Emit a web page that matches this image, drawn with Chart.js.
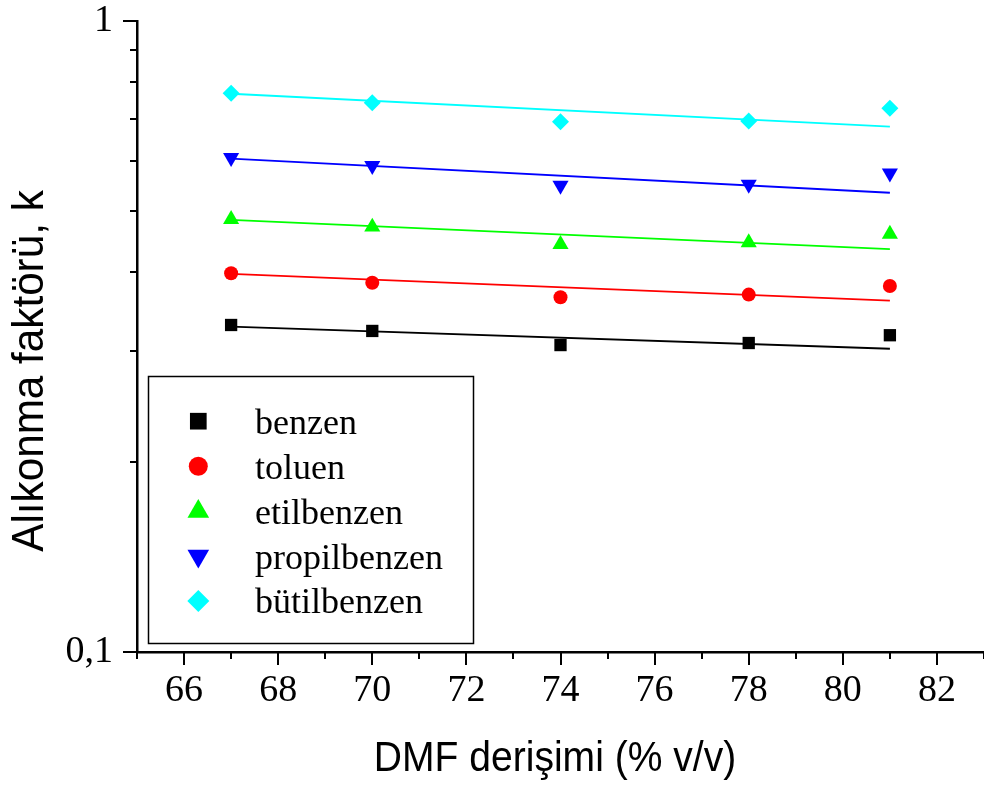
<!DOCTYPE html>
<html>
<head>
<meta charset="utf-8">
<script src="https://cdn.jsdelivr.net/npm/chart.js@4.4.0/dist/chart.umd.min.js"></script>
<style>
  html, body { margin: 0; padding: 0; background: #fff; }
</style>
</head>
<body>
<canvas id="chart" width="984" height="785"></canvas>
<script>
// DMF concentration (% v/v) and retention factors
const concentrations = [67, 70, 74, 78, 81];
const fitRange = [67, 81];
const seriesNames = ['benzen', 'toluen', 'etilbenzen', 'propilbenzen', 'bütilbenzen'];

const benzen = [0.3298, 0.3227, 0.3065, 0.3088, 0.3177];
const toluen = [0.3983, 0.3848, 0.3649, 0.3685, 0.3802];
const etilbenzen = [0.4850, 0.4716, 0.4426, 0.4454, 0.4597];
const propilbenzen = [0.6073, 0.5898, 0.5487, 0.5507, 0.5737];
const butilbenzen = [0.7681, 0.7422, 0.6924, 0.6940, 0.7273];

// fitted lines (values at 67 and 81)
const benzenFit = [0.3278, 0.3024];
const toluenFit = [0.3973, 0.3604];
const etilbenzenFit = [0.4838, 0.4351];
const propilbenzenFit = [0.6051, 0.5343];
const butilbenzenFit = [0.7669, 0.6800];

const xMajorTicks = [66, 68, 70, 72, 74, 76, 78, 80, 82];
const xMinorTicks = [65, 67, 69, 71, 73, 75, 77, 79, 81, 83];
const yMajorTicks = [0.1, 1];
const yMinorTicks = [0.2, 0.3, 0.4, 0.5, 0.6, 0.7, 0.8, 0.9];
const yTickLabels = ['0,1', '1'];

const xTitle = 'DMF derişimi (% v/v)';
const yTitle = 'Alıkonma faktörü, k';

const allValues = [benzen, toluen, etilbenzen, propilbenzen, butilbenzen];
const allFits = [benzenFit, toluenFit, etilbenzenFit, propilbenzenFit, butilbenzenFit];
const colors = ['#000000', '#ff0000', '#00ff00', '#0000ff', '#00ffff'];
const styles = ['rect', 'circle', 'triangle', 'triangle', 'rectRot'];
const rotations = [0, 0, 0, 180, 0];
const radii = [8.7, 7, 9.3, 9.3, 8.5];
const legendRadii = [11.8, 9.5, 12.5, 12.5, 11];

const datasets = [];
seriesNames.forEach((name, i) => {
  datasets.push({
    label: name,
    data: concentrations.map((x, j) => ({ x: x, y: allValues[i][j] })),
    showLine: false,
    pointStyle: styles[i],
    pointRotation: rotations[i],
    pointRadius: radii[i],
    pointHoverRadius: radii[i],
    pointBorderWidth: 0,
    backgroundColor: colors[i],
    borderColor: colors[i]
  });
  datasets.push({
    label: name + ' fit',
    data: fitRange.map((x, j) => ({ x: x, y: allFits[i][j] })),
    showLine: true,
    pointRadius: 0,
    borderWidth: 1.8,
    borderColor: colors[i],
    backgroundColor: colors[i]
  });
});

const extras = {
  id: 'extras',
  afterDraw(chart) {
    const ctx = chart.ctx;
    const xs = chart.scales.x, ys = chart.scales.y;
    const bottom = chart.chartArea.bottom, left = chart.chartArea.left;
    ctx.save();
    ctx.strokeStyle = '#000';
    ctx.lineWidth = 2;
    // tick marks
    xMajorTicks.forEach(v => {
      const p = Math.round(xs.getPixelForValue(v));
      ctx.beginPath(); ctx.moveTo(p, bottom); ctx.lineTo(p, bottom + 13); ctx.stroke();
    });
    xMinorTicks.forEach(v => {
      const p = Math.round(xs.getPixelForValue(v));
      ctx.beginPath(); ctx.moveTo(p, bottom); ctx.lineTo(p, bottom + 7); ctx.stroke();
    });
    yMajorTicks.forEach(v => {
      const p = Math.round(ys.getPixelForValue(v));
      ctx.beginPath(); ctx.moveTo(left, p); ctx.lineTo(left - 14, p); ctx.stroke();
    });
    yMinorTicks.forEach(v => {
      const p = Math.round(ys.getPixelForValue(v));
      ctx.beginPath(); ctx.moveTo(left, p); ctx.lineTo(left - 7, p); ctx.stroke();
    });

    // axis titles
    ctx.fillStyle = '#000';
    ctx.textAlign = 'center';
    ctx.textBaseline = 'alphabetic';
    ctx.font = '42px "Liberation Sans", Arial, sans-serif';
    ctx.save();
    ctx.translate(555, 771);
    ctx.scale(0.93, 1);
    ctx.fillText(xTitle, 0, 0);
    ctx.restore();
    ctx.save();
    ctx.font = '44px "Liberation Sans", Arial, sans-serif';
    ctx.translate(43, 371);
    ctx.rotate(-Math.PI / 2);
    ctx.scale(0.96, 1);
    ctx.fillText(yTitle, 0, 0);
    ctx.restore();

    // legend box
    ctx.fillStyle = '#fff';
    ctx.fillRect(148.5, 376.5, 325, 267);
    ctx.lineWidth = 1.5;
    ctx.strokeRect(148.5, 376.5, 325, 267);
    const markerY = [421.2, 466.2, 511.6, 556.1, 601];
    const textY = [434, 479, 524, 569, 613];
    seriesNames.forEach((name, i) => {
      ctx.fillStyle = colors[i];
      ctx.strokeStyle = colors[i];
      Chart.helpers.drawPoint(ctx, {
        pointStyle: styles[i], rotation: rotations[i], radius: legendRadii[i], borderWidth: 0
      }, 198.3, markerY[i]);
      ctx.fillStyle = '#000';
      ctx.textAlign = 'left';
      ctx.font = '36px "Liberation Serif", "Times New Roman", serif';
      ctx.fillText(name, 255, textY[i]);
    });
    ctx.restore();
  }
};

new Chart(document.getElementById('chart'), {
  type: 'scatter',
  data: { datasets: datasets },
  options: {
    responsive: false,
    animation: false,
    devicePixelRatio: 1,
    layout: { autoPadding: false, padding: { top: 21, right: 0, left: 0, bottom: 0 } },
    plugins: { legend: { display: false }, tooltip: { enabled: false } },
    scales: {
      x: {
        type: 'linear',
        min: 65,
        max: 83,
        // grid hidden; tickLength only offsets the labels (tick marks drawn in plugin)
        grid: { display: false, drawTicks: true, tickLength: 16 },
        border: { display: true, color: '#000', width: 2.5 },
        afterBuildTicks: s => {
          s.ticks = xMinorTicks.concat(xMajorTicks).sort((a, b) => a - b).map(v => ({ value: v }));
        },
        afterFit: s => { s.height = 133; },
        ticks: {
          autoSkip: false,
          maxRotation: 0,
          padding: 0,
          color: '#000',
          font: { family: '"Liberation Serif", "Times New Roman", serif', size: 38, lineHeight: 1.2 },
          callback: v => xMajorTicks.includes(v) ? String(v) : ''
        }
      },
      y: {
        type: 'logarithmic',
        min: 0.1,
        max: 1,
        grid: { display: false, drawTicks: true, tickLength: 24 },
        border: { display: true, color: '#000', width: 2.5 },
        afterBuildTicks: s => {
          s.ticks = yMajorTicks.concat(yMinorTicks).sort((a, b) => a - b).map(v => ({ value: v }));
        },
        afterFit: s => { s.width = 137; },
        ticks: {
          autoSkip: false,
          padding: 0,
          color: '#000',
          font: { family: '"Liberation Serif", "Times New Roman", serif', size: 38, lineHeight: 1 },
          callback: v => {
            const k = yMajorTicks.findIndex(t => Math.abs(t - v) < 1e-9);
            return k >= 0 ? yTickLabels[k] : '';
          }
        }
      }
    }
  },
  plugins: [extras]
});
</script>
</body>
</html>
